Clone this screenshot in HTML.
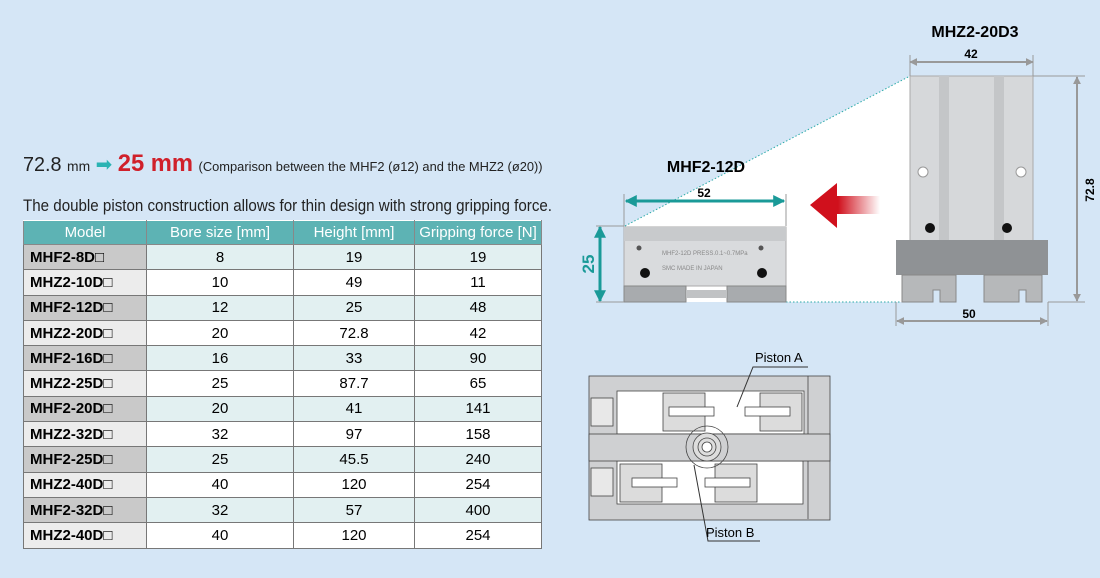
<!DOCTYPE html>
<html><head><meta charset="utf-8"><style>
body{margin:0;width:1100px;height:578px;background:#d5e6f6;font-family:"Liberation Sans",Arial,sans-serif;position:relative;overflow:hidden}
.a{position:absolute;white-space:nowrap}
table{position:absolute;left:23px;top:220px;border-collapse:collapse;font-size:15px}
td,th{height:24.3px;padding:0;border:1px solid #777;text-align:center}
th{background:#5db3b4;color:#fff;font-weight:normal;font-size:15px;border-color:#fff #888 #888 #888;height:23px}
td.m{text-align:left;padding-left:6px;font-weight:bold;width:116px}
tr:nth-child(even) td{background:#e2f0f1}
tr:nth-child(even) td.m{background:#c9c9c9}
tr:nth-child(odd) td{background:#fff}
tr:nth-child(odd) td.m{background:#ececec}
</style></head><body>
<div class="a" style="left:23px;top:150px;font-size:20px;color:#222;transform:scaleX(0.99);transform-origin:0 0">72.8 <span style="font-size:14px">mm</span> <span style="color:#2ab3b3">➡</span> <b style="color:#d0202a;font-size:24px">25 mm</b> <span style="font-size:13px">(Comparison between the MHF2 (ø12) and the MHZ2 (ø20))</span></div>
<div class="a" style="left:23px;top:196px;font-size:17px;color:#222;transform:scaleX(0.89);transform-origin:0 0">The double piston construction allows for thin design with strong gripping force.</div>
<table>
<tr><th style="width:122px">Model</th><th style="width:146px">Bore size [mm]</th><th style="width:120px">Height [mm]</th><th style="width:126px">Gripping force [N]</th></tr>
<tr><td class="m">MHF2-8D□</td><td>8</td><td>19</td><td>19</td></tr>
<tr><td class="m">MHZ2-10D□</td><td>10</td><td>49</td><td>11</td></tr>
<tr><td class="m">MHF2-12D□</td><td>12</td><td>25</td><td>48</td></tr>
<tr><td class="m">MHZ2-20D□</td><td>20</td><td>72.8</td><td>42</td></tr>
<tr><td class="m">MHF2-16D□</td><td>16</td><td>33</td><td>90</td></tr>
<tr><td class="m">MHZ2-25D□</td><td>25</td><td>87.7</td><td>65</td></tr>
<tr><td class="m">MHF2-20D□</td><td>20</td><td>41</td><td>141</td></tr>
<tr><td class="m">MHZ2-32D□</td><td>32</td><td>97</td><td>158</td></tr>
<tr><td class="m">MHF2-25D□</td><td>25</td><td>45.5</td><td>240</td></tr>
<tr><td class="m">MHZ2-40D□</td><td>40</td><td>120</td><td>254</td></tr>
<tr><td class="m">MHF2-32D□</td><td>32</td><td>57</td><td>400</td></tr>
<tr><td class="m">MHZ2-40D□</td><td>40</td><td>120</td><td>254</td></tr>
</table>
<svg class="a" style="left:0;top:0" width="1100" height="578" font-family="Liberation Sans,Arial,sans-serif">
<defs><linearGradient id="r" x1="0" x2="1"><stop offset="0.4" stop-color="#d0101c"/><stop offset="1" stop-color="#d0101c" stop-opacity="0"/></linearGradient>
<marker id="g" viewBox="0 0 10 10" refX="9" refY="5" markerWidth="4" markerHeight="4" orient="auto-start-reverse"><path d="M0,0L10,5L0,10z" fill="#999"/></marker>
<marker id="t" viewBox="0 0 10 10" refX="9" refY="5" markerWidth="4" markerHeight="4" orient="auto-start-reverse"><path d="M0,0L10,5L0,10z" fill="#1a9a98"/></marker></defs>
<polygon points="625,226 910,76 910,302 625,302" fill="#fff"/>
<line x1="625" y1="226" x2="910" y2="76" stroke="#2aaaa8" stroke-dasharray="1.5,2"/>
<line x1="786" y1="302" x2="910" y2="302" stroke="#2aaaa8" stroke-dasharray="1.5,2"/>
<rect x="910" y="76" width="123" height="166" fill="#d6d8da" stroke="#aaa"/>
<rect x="939" y="76" width="10" height="166" fill="#c4c6c8"/><rect x="994" y="76" width="10" height="166" fill="#c4c6c8"/>
<circle cx="923" cy="172" r="5" fill="#fff" stroke="#999"/><circle cx="1021" cy="172" r="5" fill="#fff" stroke="#999"/>
<circle cx="930" cy="228" r="5" fill="#111"/><circle cx="1007" cy="228" r="5" fill="#111"/>
<rect x="896" y="240" width="152" height="35" fill="#8f9295"/>
<path d="M902,275h54v27h-16v-12h-7v12h-31z M984,275h58v27h-16v-12h-7v12h-35z" fill="#b6b8ba" stroke="#888"/>
<line x1="910" y1="62" x2="1033" y2="62" stroke="#999" stroke-width="2" marker-start="url(#g)" marker-end="url(#g)"/>
<line x1="910" y1="55" x2="910" y2="76" stroke="#999"/><line x1="1033" y1="55" x2="1033" y2="76" stroke="#999"/>
<text x="971" y="58" font-size="12" font-weight="bold" text-anchor="middle">42</text>
<line x1="1077" y1="77" x2="1077" y2="301" stroke="#999" stroke-width="2" marker-start="url(#g)" marker-end="url(#g)"/>
<line x1="1033" y1="76" x2="1085" y2="76" stroke="#999"/><line x1="1048" y1="302" x2="1085" y2="302" stroke="#999"/>
<text x="1094" y="190" font-size="12" font-weight="bold" text-anchor="middle" transform="rotate(-90 1094 190)">72.8</text>
<line x1="897" y1="321" x2="1047" y2="321" stroke="#999" stroke-width="2" marker-start="url(#g)" marker-end="url(#g)"/>
<line x1="896" y1="302" x2="896" y2="326" stroke="#999"/><line x1="1048" y1="302" x2="1048" y2="326" stroke="#999"/>
<text x="969" y="318" font-size="12" font-weight="bold" text-anchor="middle">50</text>
<text x="975" y="37" font-size="16" font-weight="bold" text-anchor="middle">MHZ2-20D3</text>
<path d="M810,205L837,183V196H880V214H837V228z" fill="url(#r)"/>
<rect x="624" y="227" width="162" height="59" fill="#d9dbdd" stroke="#aaa"/>
<rect x="624" y="227" width="162" height="14" fill="#c8cacc"/>
<circle cx="639" cy="248" r="2.5" fill="#555"/><circle cx="761" cy="248" r="2.5" fill="#555"/>
<circle cx="645" cy="273" r="5" fill="#111"/><circle cx="762" cy="273" r="5" fill="#111"/>
<text x="662" y="255" font-size="6" fill="#888">MHF2-12D  PRESS.0.1~0.7MPa</text>
<text x="662" y="270" font-size="6" fill="#888">SMC  MADE IN JAPAN</text>
<path d="M624,286h62v16h-62z M727,286h59v16h-59z" fill="#a8abae" stroke="#888"/>
<rect x="686" y="290" width="41" height="8" fill="#c0c2c4"/>
<line x1="600" y1="227" x2="600" y2="301" stroke="#1a9a98" stroke-width="3" marker-start="url(#t)" marker-end="url(#t)"/>
<line x1="596" y1="226" x2="624" y2="226" stroke="#999"/><line x1="596" y1="302" x2="624" y2="302" stroke="#999"/>
<text x="594" y="264" font-size="17" font-weight="bold" fill="#1a9a98" text-anchor="middle" transform="rotate(-90 594 264)">25</text>
<line x1="626" y1="201" x2="784" y2="201" stroke="#1a9a98" stroke-width="3" marker-start="url(#t)" marker-end="url(#t)"/>
<line x1="624" y1="194" x2="624" y2="226" stroke="#999"/><line x1="786" y1="194" x2="786" y2="226" stroke="#999"/>
<text x="704" y="197" font-size="12" font-weight="bold" text-anchor="middle">52</text>
<text x="706" y="172" font-size="16" font-weight="bold" text-anchor="middle">MHF2-12D</text>
<g stroke="#444" stroke-width="0.8">
<rect x="589" y="376" width="241" height="144" fill="#cfd0d2"/>
<rect x="617" y="391" width="187" height="43" fill="#fff"/>
<rect x="617" y="461" width="186" height="43" fill="#fff"/>
<rect x="589" y="434" width="241" height="27" fill="#cfd0d2"/>
<rect x="663" y="393" width="42" height="38" fill="#dcdcdc"/><rect x="760" y="393" width="42" height="38" fill="#dcdcdc"/>
<rect x="620" y="464" width="42" height="38" fill="#dcdcdc"/><rect x="715" y="464" width="42" height="38" fill="#dcdcdc"/>
<rect x="669" y="407" width="45" height="9" fill="#fff"/><rect x="745" y="407" width="45" height="9" fill="#fff"/>
<rect x="632" y="478" width="45" height="9" fill="#fff"/><rect x="705" y="478" width="45" height="9" fill="#fff"/>
<rect x="591" y="398" width="22" height="28" fill="#e8e8e8"/><rect x="591" y="468" width="22" height="28" fill="#e8e8e8"/>
<circle cx="707" cy="447" r="21" fill="none"/><circle cx="707" cy="447" r="14" fill="#ddd"/><circle cx="707" cy="447" r="9" fill="none"/><circle cx="707" cy="447" r="5" fill="#fff"/>
<line x1="808" y1="461" x2="808" y2="519"/><line x1="808" y1="376" x2="808" y2="434"/>
</g>
<g stroke="#333" fill="none"><polyline points="737,407 753,367 808,367"/><polyline points="694,465 708,541 760,541"/></g>
<text x="755" y="362" font-size="13">Piston A</text>
<text x="706" y="537" font-size="13">Piston B</text>
</svg>
</body></html>
